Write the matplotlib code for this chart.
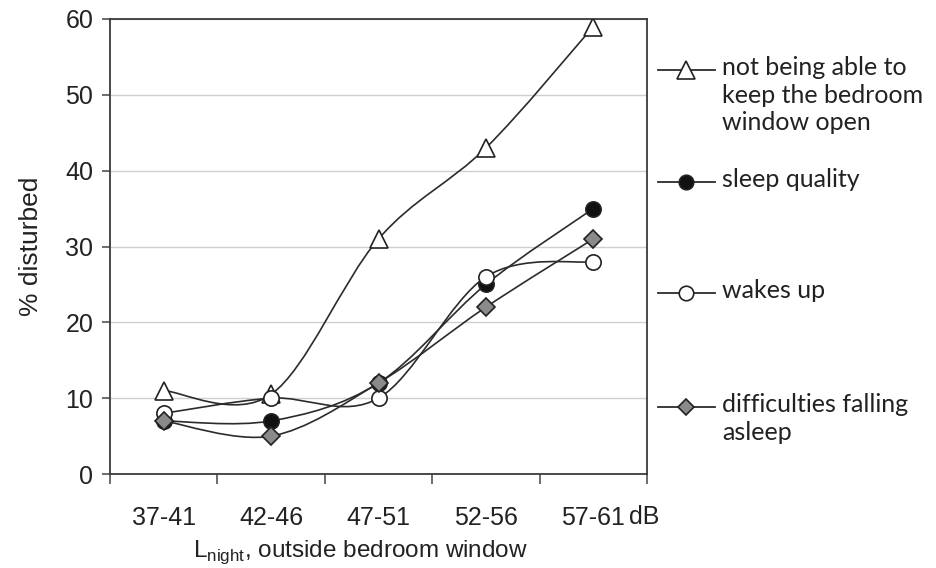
import numpy as np
import matplotlib
matplotlib.use("Agg")
import matplotlib.pyplot as plt
from matplotlib.path import Path
from matplotlib.patches import PathPatch
from matplotlib.lines import Line2D

plt.rcParams['font.family'] = ['Liberation Sans', 'DejaVu Sans']
plt.rcParams['mathtext.fontset'] = 'custom'
plt.rcParams['mathtext.rm'] = 'Liberation Sans'

# ---- data ----
categories = ['37-41', '42-46', '47-51', '52-56', '57-61']
window_open = [11, 10.5, 31, 43, 59]
sleep_quality = [7, 7, 12, 25, 35]
wakes_up = [8, 10, 10, 26, 28]
falling_asleep = [7, 5, 12, 22, 31]
labels = ['not being able to\nkeep the bedroom\nwindow open', 'sleep quality',
          'wakes up', 'difficulties falling\nasleep']

W, H = 936, 568
fig = plt.figure(figsize=(W / 100, H / 100), dpi=100)
ax = fig.add_axes([110 / W, 1 - 474 / H, (647 - 110) / W, (474 - 19) / H])

line_col = '#2b2b2b'
txt_col = '#222222'


def smooth_path(xs, ys):
    # excel-like smoothed line: catmull-rom turned into bezier segments
    pts = np.column_stack([xs, ys]).astype(float)
    n = len(pts)
    verts = [pts[0]]
    codes = [Path.MOVETO]
    for i in range(n - 1):
        p0 = pts[i - 1] if i > 0 else pts[i]
        p1 = pts[i]
        p2 = pts[i + 1]
        p3 = pts[i + 2] if i + 2 < n else pts[i + 1]
        c1 = p1 + (p2 - p0) / 6.0
        c2 = p2 - (p3 - p1) / 6.0
        verts += [c1, c2, p2]
        codes += [Path.CURVE4] * 3
    return Path(verts, codes)


x = np.arange(len(categories)) + 0.5
series = [
    (window_open, '^', 'white', 13),
    (sleep_quality, 'o', '#111111', 11),
    (wakes_up, 'o', 'white', 11),
    (falling_asleep, 'D', '#8a8a8a', 9),
]
for vals, mk, fc, ms in series:
    ax.add_patch(PathPatch(smooth_path(x, vals), fill=False, edgecolor=line_col,
                           lw=1.2, zorder=3))
for vals, mk, fc, ms in series:
    ax.plot(x, vals, ls='none', marker=mk, ms=ms, mfc=fc, mec='#222222',
            mew=1.2, zorder=4)

ax.set_xlim(0, 5)
ax.set_ylim(0, 60)
ax.set_yticks(range(0, 61, 10))
ax.set_xticks(range(6))
ax.set_xticklabels([])
ax.set_xticks(x, minor=True)
ax.set_xticklabels(categories, minor=True)
ax.tick_params(axis='x', which='minor', length=0, labelsize=18, pad=23,
               labelcolor=txt_col)
ax.tick_params(axis='x', which='major', direction='out', length=7,
               color='#444444', width=1.1)
ax.tick_params(axis='y', direction='out', length=6, color='#444444', width=1.1,
               labelsize=18, pad=6, labelcolor=txt_col)
ax.yaxis.grid(True, color='#cfcfcf', lw=1.0)
ax.set_axisbelow(True)
for s in ax.spines.values():
    s.set_color('#3a3a3a')
    s.set_linewidth(1.3)

ax.set_ylabel('% disturbed', fontsize=19, color=txt_col, labelpad=16)
fig.text(629 / W, 1 - 517 / H, 'dB', fontsize=18, color=txt_col,
         ha='left', va='center')
fig.text(361 / W, 1 - 552 / H, r'L$_{\mathrm{night}}$, outside bedroom window',
         fontsize=17.5, color=txt_col, ha='center', va='center')

# ---- legend, drawn by hand in figure pixels ----
leg_y = [70, 182, 293, 407]
for (vals, mk, fc, ms), lab, yy in zip(series, labels, leg_y):
    yf = 1 - yy / H
    fig.add_artist(Line2D([658 / W, 686 / W, 715 / W], [yf, yf, yf],
                          transform=fig.transFigure, color=line_col, lw=1.3,
                          marker=mk, markevery=[1], ms=ms * 0.95, mfc=fc,
                          mec='#222222', mew=1.2))
    fig.text(722 / W, yf + 14 / H, lab, fontsize=18, family='Lato',
             color=txt_col, ha='left', va='top', linespacing=1.25)

fig.savefig('out.png', dpi=100)
